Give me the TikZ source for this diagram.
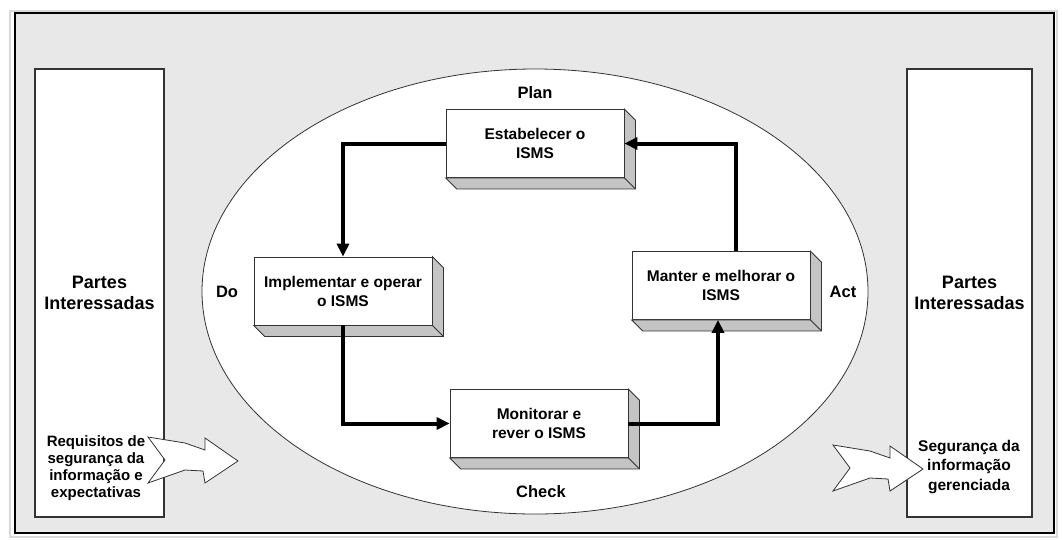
\documentclass[tikz,border=0pt]{standalone}
\usepackage{fontspec}
\setmainfont{Liberation Sans}
\usetikzlibrary{arrows.meta,calc}

\definecolor{fundo}{HTML}{E8E8E8}
\definecolor{lateral}{HTML}{C4C4C4}
\definecolor{borda}{HTML}{333333}

\begin{document}
\begin{tikzpicture}[x=1pt,y=-1pt]
	\tikzset{>={Triangle[length=13pt,width=12pt]}}
	\tikzset{caixa/.style={draw=borda,fill=white,line width=0.8pt,minimum width=178pt,minimum height=68pt,inner sep=0pt,align=center,font=\fontsize{15.5}{19}\selectfont\bfseries}}
	\tikzset{lado/.style={draw=borda,fill=white,line width=1.2pt,minimum height=448pt,inner sep=0pt,align=center,font=\fontsize{18}{21}\selectfont\bfseries}}
	\tikzset{fluxo/.style={->,line width=4pt}}
	\tikzset{rotulo/.style={font=\fontsize{16.5}{20}\selectfont\bfseries}}
	\tikzset{seta/.style={draw=borda,fill=white,line width=0.8pt}}
	
	\useasboundingbox (0,0) rectangle (1062,539);
	\draw[gray!30,line width=2pt] (10,11) rectangle (1057,537);
	\draw[fill=fundo,line width=1.2pt] (15,13) rectangle (1054,533);
	
	\draw[draw=borda,fill=white,line width=0.8pt] (535,291.5) ellipse [x radius=333, y radius=222.5];
	
	\node[lado,minimum width=129pt] (partesA) at (99.5,293) {Partes\\Interessadas};
	\node[lado,minimum width=125pt] (partesB) at (969.5,293) {Partes\\Interessadas};
	
	\foreach \x/\y in {148/437,833/445}
	\draw[seta,shift={(\x,\y)}] (0,0) -- (37,6) -- (57,13) -- (57,1) -- (90,24) -- (57,46) -- (55,34) -- (37,33) -- (0,46) -- (17,23) -- cycle;
	
	\node[align=center,font=\fontsize{15}{17}\selectfont\bfseries] (requisitos) at (96,468.5) {Requisitos de\\segurança da\\informação e\\expectativas};
	\node[align=center,font=\fontsize{15.5}{19.5}\selectfont\bfseries] (seguranca) at (969,467) {Segurança da\\informação\\gerenciada};
	
	\node[caixa] (estabelecer) at (535,143.5) {Estabelecer o\\ISMS};
	\node[caixa] (implementar) at (343,291) {Implementar e operar\\o ISMS};
	\node[caixa] (manter) at (721,285.5) {Manter e melhorar o\\ISMS};
	\node[caixa] (monitorar) at (539,423.5) {Monitorar e\\rever o ISMS};
	
	\foreach \n in {estabelecer,implementar,manter,monitorar}{
		\filldraw[fill=lateral,draw=borda,line width=0.8pt] (\n.south west) -- ++(11,11) -- ($(\n.south east)+(11,11)$) -- ($(\n.north east)+(11,11)$) -- (\n.north east) -- (\n.south east) -- cycle;
		\draw[borda,line width=0.8pt] (\n.south east) -- ++(11,11);
	}
	
	\draw[fluxo] (estabelecer.west) -| (implementar.north);
	\draw[fluxo] (implementar.south) |- (monitorar.west);
	\draw[fluxo] (monitorar.east) -| ([xshift=-3pt]manter.south);
	\draw[fluxo] ([xshift=15pt]manter.north) |- (estabelecer.east);
	
	\node[rotulo] (plan) at (535,93) {Plan};
	\node[rotulo] (do) at (227,292) {Do};
	\node[rotulo] (act) at (843,292) {Act};
	\node[rotulo] (check) at (541,492) {Check};
	
\end{tikzpicture}
\end{document}
